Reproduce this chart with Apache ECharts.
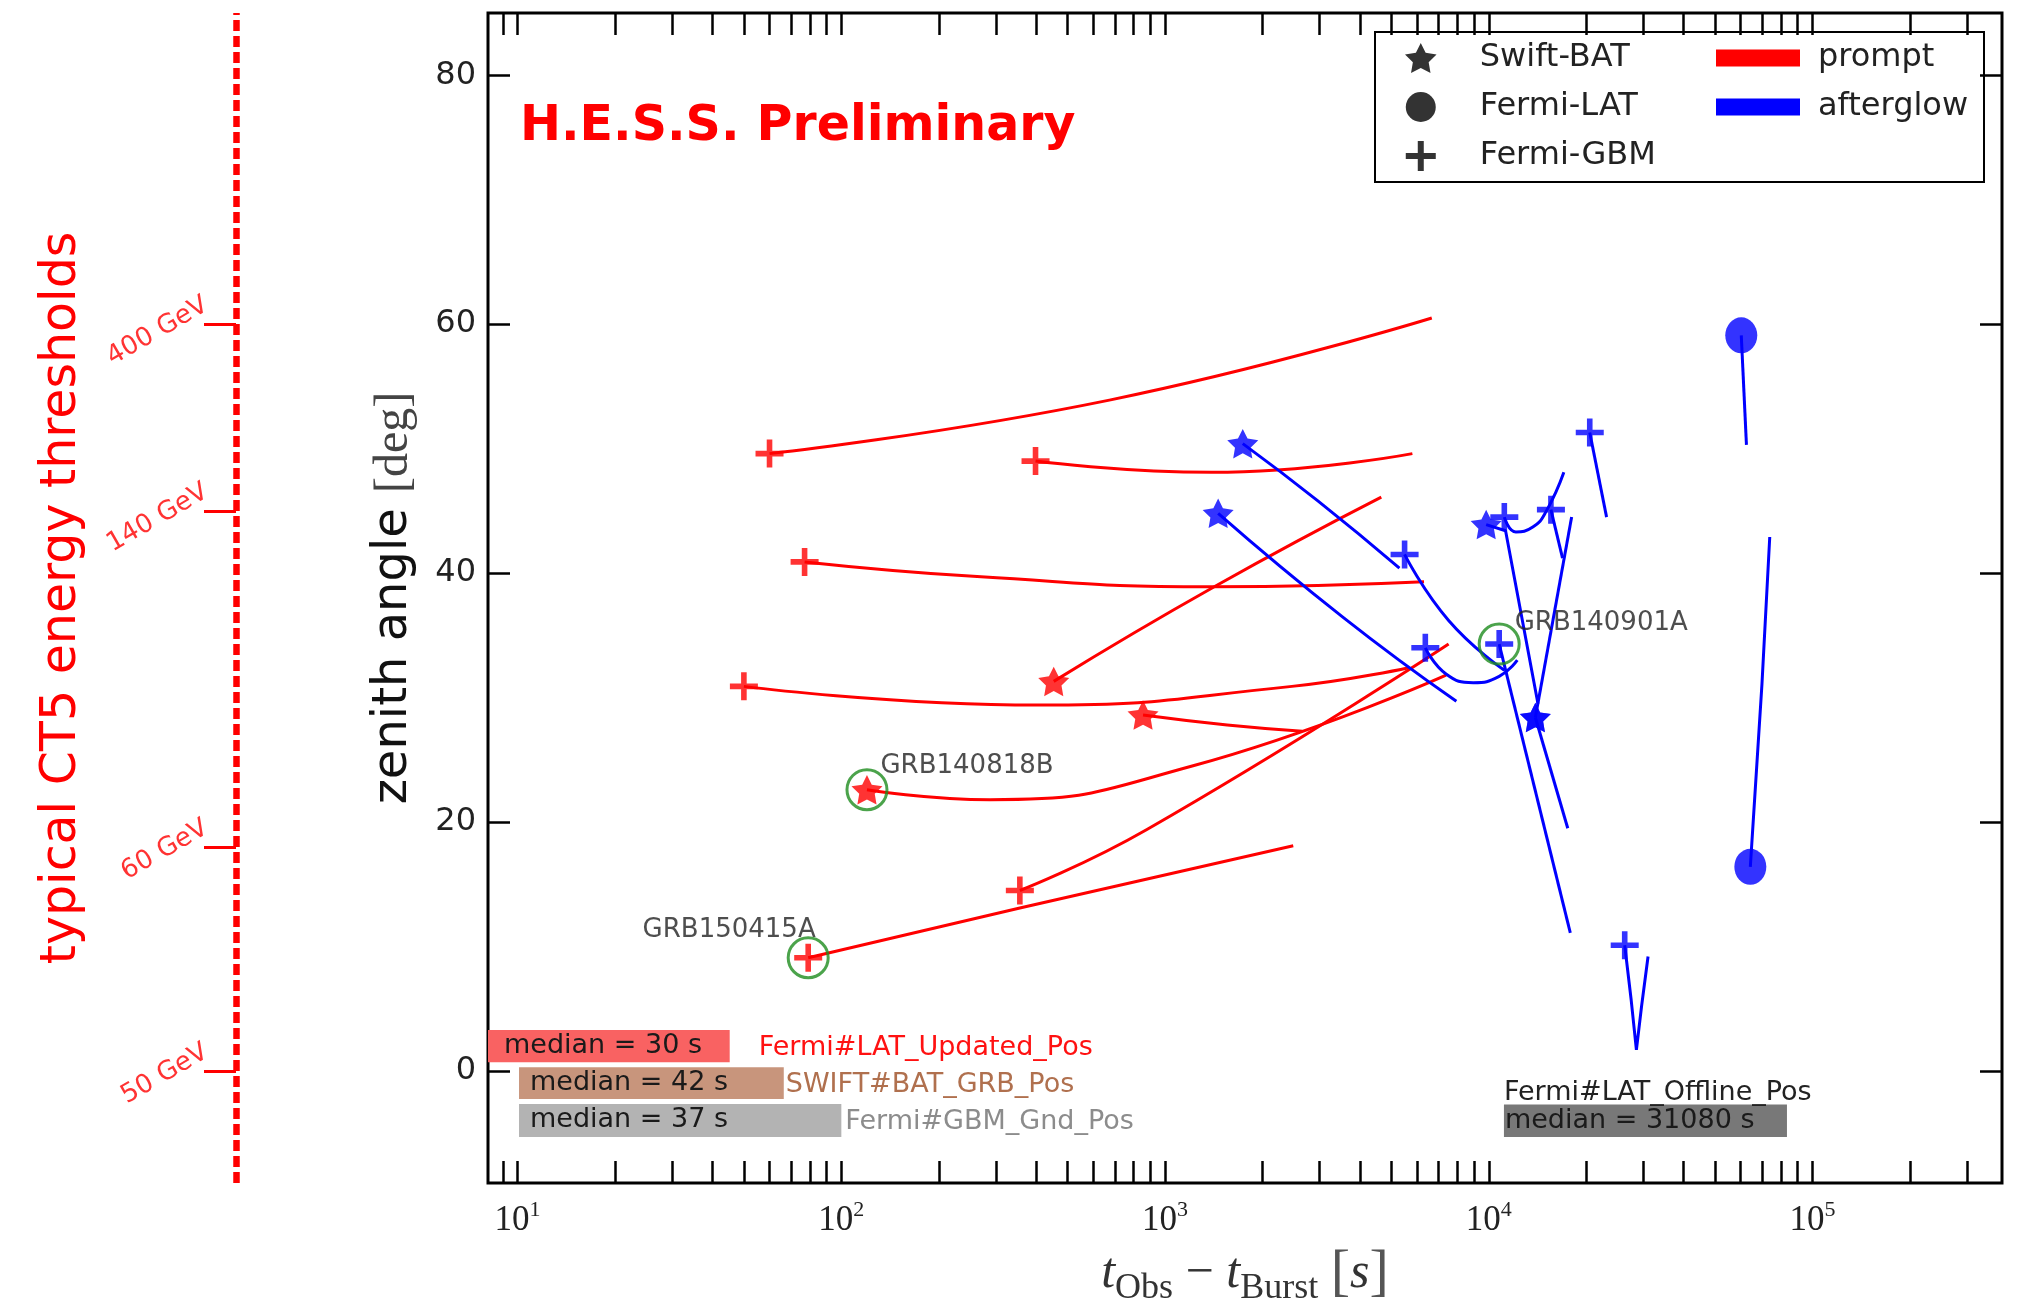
<!DOCTYPE html>
<html><head><meta charset="utf-8">
<script src="https://cdn.jsdelivr.net/npm/echarts@6/dist/echarts.min.js"></script>
<style>html,body{margin:0;padding:0;background:#fff}#c{width:2023px;height:1306px}</style>
</head><body><div id="c"></div>
<script>
// ---------------- data ----------------
const xTickLabelValues = [10, 100, 1000, 10000, 100000];
const yTickValues = [0, 20, 40, 60, 80];
const thresholdAngles = [0, 18, 45, 60];
const thresholdLabels = ['50 GeV', '60 GeV', '140 GeV', '400 GeV'];

// prompt follow-ups (red): [t_obs - t_burst (s), zenith angle (deg)]
const promptTracks = [
  [[60, 49.6], [673, 53.9], [6668, 60.5]],
  [[398, 49.0], [1393, 48.1], [5808, 49.6]],
  [[77, 40.9], [270, 39.7], [1393, 38.9], [6310, 39.3]],
  [[453, 31.3], [1419, 38.9], [4656, 46.1]],
  [[50, 30.9], [406, 29.4], [2466, 30.9], [5649, 32.4]],
  [[855, 28.6], [1556, 27.8], [2655, 27.3]],
  [[120, 22.6], [288, 21.8], [1213, 24.5], [7379, 31.8]],
  [[356, 14.5], [879, 19.4], [7516, 34.3]],
  [[79, 9.1], [356, 13.1], [2489, 18.1]]
];
const promptInstruments = ['Fermi-GBM', 'Fermi-GBM', 'Fermi-GBM', 'Swift-BAT', 'Fermi-GBM',
  'Swift-BAT', 'Swift-BAT', 'Fermi-GBM', 'Fermi-GBM'];

// afterglow follow-ups (blue)
const afterglowTracks = [
  [[1738, 50.4], [2965, 45.8], [5297, 40.4]],
  [[5495, 41.5], [7516, 36.2], [11170, 32.2]],
  [[1459, 44.8], [3565, 36.4], [7943, 29.7]],
  [[6368, 34.0], [7379, 31.9], [8954, 31.2], [10770, 31.7], [12250, 33.0]],
  [[10770, 34.3], [17860, 11.1]],
  [[11170, 44.5], [12130, 43.3], [13680, 43.7], [15000, 44.9], [17060, 48.1]],
  [[9817, 43.9], [11270, 43.4], [14190, 29.5]],
  [[15560, 45.1], [16900, 41.2]],
  [[13930, 28.4], [18030, 44.5]],
  [[13930, 28.4], [17540, 19.5]],
  [[20510, 51.3], [23120, 44.5]],
  [[26300, 10.1], [27540, 5.7], [28580, 1.7], [29650, 5.2], [31050, 9.2]],
  [[60260, 59.1], [62520, 50.3]],
  [[64270, 16.4], [69820, 31.1], [73790, 42.9]]
];
const afterglowInstruments = ['Swift-BAT', 'Fermi-GBM', 'Swift-BAT', 'Fermi-GBM', 'Fermi-GBM',
  'Fermi-GBM', 'Swift-BAT', 'Fermi-GBM', 'Swift-BAT', 'Swift-BAT', 'Fermi-GBM', 'Fermi-GBM',
  'Fermi-LAT', 'Fermi-LAT'];

const highlightNames = ['GRB140818B', 'GRB150415A', 'GRB140901A'];
const highlightPoints = [[120, 22.6], [79, 9.1], [10770, 34.3]];

const medianCatalogs = ['Fermi#LAT_Updated_Pos', 'SWIFT#BAT_GRB_Pos', 'Fermi#GBM_Gnd_Pos', 'Fermi#LAT_Offline_Pos'];
const medianDelays = [30, 42, 37, 31080];

// ---------------- layout / style ----------------
const X_MIN = 8.1, X_MAX = 385000, Y_MIN = -9, Y_MAX = 85;
const COLOR = { prompt: '#ff0000', afterglow: '#0000ff' };
const STAR = 'path://M100,0L129.4,59.5L195.1,69.1L147.6,115.5L158.8,180.9L100,150L41.2,180.9L52.4,115.5L4.9,69.1L70.6,59.5Z';
const PLUS = 'path://M40,0H60V40H100V60H60V100H40V60H0V40H40Z';
const markerSymbol = { 'Swift-BAT': STAR, 'Fermi-LAT': 'circle', 'Fermi-GBM': PLUS };
const markerSize = { 'Swift-BAT': 31, 'Fermi-LAT': [32, 36], 'Fermi-GBM': 28 };
const afterglowUnsmoothed = [6, 11];   // indices of afterglow tracks drawn with sharp corners
const ringLabelPos = [[35, -2], [29, -6], [37, 1]];
const ringLabelAlign = ['left', 'right', 'left'];
// annotation boxes in data space: t range, zenith range, fill, text colours
const medianBoxLayout = [
  { t0: 8.1, t1: 45.2, zTop: 3.3, zBot: 0.7, fill: '#f96262', pad: 16, cat: '#ff1111', catPos: 'right', catGap: 29 },
  { t0: 10.1, t1: 66.4, zTop: 0.3, zBot: -2.25, fill: '#c8957c', pad: 11, cat: '#b0704e', catPos: 'right', catGap: 2 },
  { t0: 10.1, t1: 100, zTop: -2.65, zBot: -5.3, fill: '#b3b3b3', pad: 11, cat: '#8c8c8c', catPos: 'right', catGap: 4 },
  { t0: 11140, t1: 83400, zTop: -2.7, zBot: -5.3, fill: '#787878', pad: 1, cat: '#222', catPos: 'top', catGap: 0 }
];

const xMinorTicks = [];
for (let e = 0; e <= 5; e++) for (let k = 1; k <= 9; k++) {
  const v = k * Math.pow(10, e);
  if (v >= X_MIN && v <= X_MAX) xMinorTicks.push(v);
}

// ---------------- series ----------------
const series = [];
function addTracks(tracks, name, color, sharp) {
  tracks.forEach((tr, i) => {
    series.push({
      type: 'line', name, data: tr, showSymbol: false, symbol: 'none',
      smooth: (sharp.indexOf(i) >= 0 || tr.length < 3) ? false : 0.5,
      lineStyle: { color, width: 3 }, itemStyle: { color }, z: 2, silent: true
    });
  });
}
addTracks(promptTracks, 'prompt', COLOR.prompt, []);
addTracks(afterglowTracks, 'afterglow', COLOR.afterglow, afterglowUnsmoothed);

['Swift-BAT', 'Fermi-LAT', 'Fermi-GBM'].forEach(inst => {
  const data = [];
  promptTracks.forEach((tr, i) => { if (promptInstruments[i] === inst) data.push({ value: tr[0], itemStyle: { color: COLOR.prompt } }); });
  afterglowTracks.forEach((tr, i) => { if (afterglowInstruments[i] === inst) data.push({ value: tr[0], itemStyle: { color: COLOR.afterglow } }); });
  series.push({
    type: 'scatter', name: inst, symbol: markerSymbol[inst], symbolSize: markerSize[inst],
    symbolKeepAspect: true, data, z: 4, silent: true
  });
});

series.push({
  type: 'scatter', name: 'highlighted', symbol: 'circle', symbolSize: 40, z: 5, silent: true,
  data: highlightNames.map((n, i) => ({
    name: n, value: highlightPoints[i],
    label: { position: ringLabelPos[i], align: ringLabelAlign[i] }
  })),
  itemStyle: { color: 'rgba(0,0,0,0)', borderColor: '#1e8c1e', borderWidth: 3 },
  label: { show: true, formatter: '{b}', fontSize: 26, fontFamily: 'DejaVu Sans', color: '#222', verticalAlign: 'middle' }
});

series.push({
  type: 'custom', name: 'medians', silent: true, z: 3, clip: false,
  data: medianDelays.map((d, i) => [medianBoxLayout[i].t0, medianBoxLayout[i].zTop, d]),
  renderItem: function (params, api) {
    const i = params.dataIndex, L = medianBoxLayout[i];
    const p0 = api.coord([L.t0, L.zTop]), p1 = api.coord([L.t1, L.zBot]);
    const midY = (p0[1] + p1[1]) / 2;
    const cat = L.catPos === 'right'
      ? { type: 'text', x: p1[0] + L.catGap, y: midY + 2, style: { text: medianCatalogs[i], fill: L.cat, font: '27px "DejaVu Sans"', verticalAlign: 'middle', align: 'left' } }
      : { type: 'text', x: p0[0], y: p0[1] + 2, style: { text: medianCatalogs[i], fill: L.cat, font: '27px "DejaVu Sans"', verticalAlign: 'bottom', align: 'left' } };
    return {
      type: 'group', children: [
        { type: 'rect', shape: { x: p0[0], y: p0[1], width: p1[0] - p0[0], height: p1[1] - p0[1] }, style: { fill: L.fill } },
        { type: 'text', x: p0[0] + L.pad, y: midY, style: { text: 'median = ' + medianDelays[i] + ' s', fill: '#1a1a1a', font: '27px "DejaVu Sans"', verticalAlign: 'middle', align: 'left' } },
        cat
      ]
    };
  }
});

const tickStyle = { color: '#000', width: 2.5 };
const option = {
  animation: false,
  backgroundColor: '#fff',
  title: {
    text: 'H.E.S.S. Preliminary', left: 520, top: 100, padding: 0,
    textStyle: { color: '#ff0000', fontSize: 49, fontWeight: 'bold', fontFamily: 'DejaVu Sans', lineHeight: 54 }
  },
  legend: [
    {
      orient: 'vertical', left: 1405, top: 42, padding: 0, itemGap: 17, itemWidth: 32, itemHeight: 30, selectedMode: false,
      textStyle: { fontSize: 32, fontFamily: 'DejaVu Sans', color: '#222', lineHeight: 30, padding: [0, 0, 0, 38] },
      data: [
        { name: 'Swift-BAT', icon: STAR, itemStyle: { color: '#000' } },
        { name: 'Fermi-LAT', icon: 'circle', itemStyle: { color: '#000' } },
        { name: 'Fermi-GBM', icon: PLUS, itemStyle: { color: '#000' } }
      ]
    },
    {
      orient: 'vertical', left: 1716, top: 42, padding: 0, itemGap: 17, itemWidth: 84, itemHeight: 17, selectedMode: false,
      textStyle: { fontSize: 32, fontFamily: 'DejaVu Sans', color: '#222', lineHeight: 30, padding: [0, 0, 0, 13] },
      data: [
        { name: 'prompt', icon: 'rect', itemStyle: { color: COLOR.prompt }, lineStyle: { width: 0 } },
        { name: 'afterglow', icon: 'rect', itemStyle: { color: COLOR.afterglow }, lineStyle: { width: 0 } }
      ]
    }
  ],
  graphic: [
    { type: 'rect', z: 0, shape: { x: 1375, y: 32, width: 609, height: 150 }, style: { fill: '#fff', stroke: '#000', lineWidth: 2 } }
  ],
  grid: {
    left: 488, right: 21, top: 13, bottom: 123, show: true, borderColor: '#000', borderWidth: 3,
    backgroundColor: 'rgba(0,0,0,0)', containLabel: false, outerBoundsMode: 'none'
  },
  xAxis: [
    {
      type: 'log', logBase: 10, min: X_MIN, max: X_MAX, position: 'bottom',
      axisLine: { show: false, onZero: false }, splitLine: { show: false }, minorTick: { show: false },
      axisTick: { show: true, inside: true, length: 22, lineStyle: tickStyle, customValues: xMinorTicks },
      axisLabel: {
        customValues: xTickLabelValues, margin: 16,
        formatter: v => '{b|10}{s|' + Math.round(Math.log10(v)) + '}',
        rich: {
          b: { fontFamily: 'Liberation Serif', fontSize: 35, color: '#222', verticalAlign: 'bottom' },
          s: { fontFamily: 'Liberation Serif', fontSize: 22, color: '#222', verticalAlign: 'bottom', padding: [0, 0, 17, 0] }
        }
      },
      name: '{it|t}{sub|Obs}{op| − }{it|t}{sub|Burst}{op| }{br|[}{it|s}{br|]}',
      nameLocation: 'middle', nameGap: 62,
      nameTextStyle: {
        rich: {
          it: { fontFamily: 'Liberation Serif', fontStyle: 'italic', fontSize: 50, color: '#333', verticalAlign: 'bottom', padding: [0, 0, 8, 0] },
          sub: { fontFamily: 'Liberation Serif', fontSize: 36, color: '#333', verticalAlign: 'bottom' },
          op: { fontFamily: 'Liberation Serif', fontSize: 50, color: '#333', verticalAlign: 'bottom', padding: [0, 0, 8, 0] },
          br: { fontFamily: 'Liberation Serif', fontSize: 58, color: '#555', verticalAlign: 'bottom', padding: [0, 0, 4, 0] }
        }
      }
    },
    {
      type: 'log', logBase: 10, min: X_MIN, max: X_MAX, position: 'top',
      axisLine: { show: false, onZero: false }, splitLine: { show: false }, minorTick: { show: false },
      axisTick: { show: true, inside: true, length: 22, lineStyle: tickStyle, customValues: xMinorTicks },
      axisLabel: { show: false }
    }
  ],
  yAxis: [
    {
      type: 'value', min: Y_MIN, max: Y_MAX, position: 'left',
      axisLine: { show: false, onZero: false }, splitLine: { show: false },
      axisTick: { show: true, inside: true, length: 22, lineStyle: tickStyle, customValues: yTickValues },
      axisLabel: { customValues: yTickValues, fontSize: 32, fontFamily: 'DejaVu Sans', color: '#222', margin: 12 },
      name: '{a|zenith angle }{b|[deg]}', nameLocation: 'middle', nameGap: 70,
      nameTextStyle: {
        rich: {
          a: { fontSize: 48, fontFamily: 'DejaVu Sans', color: '#111' },
          b: { fontSize: 48, fontFamily: 'Liberation Serif', color: '#444' }
        }
      }
    },
    {
      type: 'value', min: Y_MIN, max: Y_MAX, position: 'right',
      axisLine: { show: false, onZero: false }, splitLine: { show: false },
      axisTick: { show: true, inside: true, length: 22, lineStyle: tickStyle, customValues: yTickValues },
      axisLabel: { show: false }
    },
    {
      type: 'value', min: Y_MIN, max: Y_MAX, position: 'left', offset: 252,
      axisLine: { show: true, onZero: false, lineStyle: { color: '#ff0000', width: 6.5, type: [11, 5], cap: 'butt' } },
      splitLine: { show: false },
      axisTick: { show: true, inside: false, length: 32, lineStyle: { color: '#ff0000', width: 3 }, customValues: thresholdAngles },
      axisLabel: {
        customValues: thresholdAngles, rotate: 30, margin: 18, lineHeight: 48,
        fontSize: 26, fontFamily: 'DejaVu Sans', color: '#ff3333',
        formatter: v => thresholdLabels[thresholdAngles.indexOf(Number(v))] + '\n '
      },
      name: 'typical CT5 energy thresholds', nameLocation: 'middle', nameGap: 141,
      nameTextStyle: { fontSize: 49, fontFamily: 'DejaVu Sans', color: '#ff0000' }
    }
  ],
  series: series
};

const chart = echarts.init(document.getElementById('c'), null, { renderer: 'canvas' });
chart.setOption(option);
</script></body></html>
